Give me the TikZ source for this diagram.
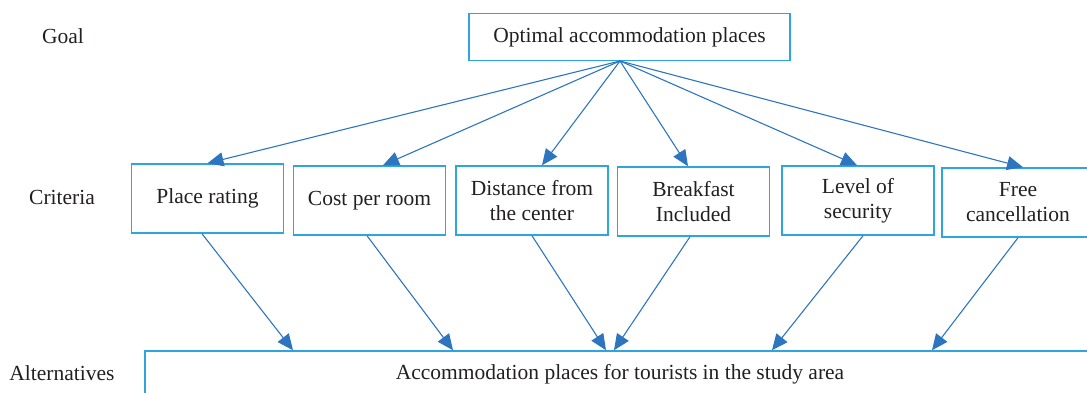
\documentclass[tikz,border=0pt]{standalone}
\usepackage{fontspec}
\setmainfont{Liberation Serif}
\usetikzlibrary{arrows.meta}
\definecolor{boxblue}{RGB}{45,165,222}
\definecolor{arrblue}{RGB}{46,117,192}
\definecolor{txt}{RGB}{35,31,32}
\begin{document}
\begin{tikzpicture}[x=1pt,y=-1pt,
  every node/.style={text=txt,font=\fontsize{21.5}{25}\selectfont},
  boxnode/.style={draw=boxblue,line width=1.5pt,align=center,inner sep=0pt},
  crit/.style={boxnode,minimum width=152pt,minimum height=69pt},
  conn/.style={draw=arrblue,line width=1.1pt,-{Triangle[length=16pt,width=14pt]}}]
\useasboundingbox (0,0) rectangle (1087,393);
\clip (0,0) rectangle (1087,393);
% level labels
\node (lgoal) at (63,36) {Goal};
\node (lcrit) at (62,197) {Criteria};
\node (lalt) at (62,373) {Alternatives};
% goal
\node[boxnode,minimum width=321pt,minimum height=47pt] (goal) at (629.5,37) {Optimal accommodation places};
\coordinate (apex) at (620,61);
% criteria
\node[crit] (c1) at (207.5,198.5) {Place rating};
\node[crit] (c2) at (369.5,200.5) {Cost per room};
\node[crit] (c3) at (532,200.5) {Distance from\\the center};
\node[crit] (c4) at (693.5,201.5) {Breakfast\\Included};
\node[crit] (c5) at (858,200.5) {Level of\\security};
\node[crit] (c6) at (1018,202.5) {Free\\cancellation};
% alternatives
\node[boxnode,minimum width=950pt,minimum height=46pt] (alt) at (620,374) {Accommodation places for tourists in the study area};
% goal to criteria
\draw[conn] (apex) -- ([xshift=0pt]c1.north);
\draw[conn] (apex) -- ([xshift=13.5pt]c2.north);
\draw[conn] (apex) -- ([xshift=10pt]c3.north);
\draw[conn] (apex) -- ([xshift=-5.5pt]c4.north);
\draw[conn] (apex) -- ([xshift=-1pt]c5.north);
\draw[conn] (apex) -- ([xshift=5pt]c6.north);
% criteria to alternatives
\draw[conn] ([xshift=-5.5pt]c1.south) -- ([xshift=-327pt]alt.north);
\draw[conn] ([xshift=-2.5pt]c2.south) -- ([xshift=-167pt]alt.north);
\draw[conn] ([xshift=0pt]c3.south) -- ([xshift=-14pt]alt.north);
\draw[conn] ([xshift=-3.5pt]c4.south) -- ([xshift=-6pt]alt.north);
\draw[conn] ([xshift=5pt]c5.south) -- ([xshift=152pt]alt.north);
\draw[conn] ([xshift=0pt]c6.south) -- ([xshift=312pt]alt.north);
\end{tikzpicture}
\end{document}
